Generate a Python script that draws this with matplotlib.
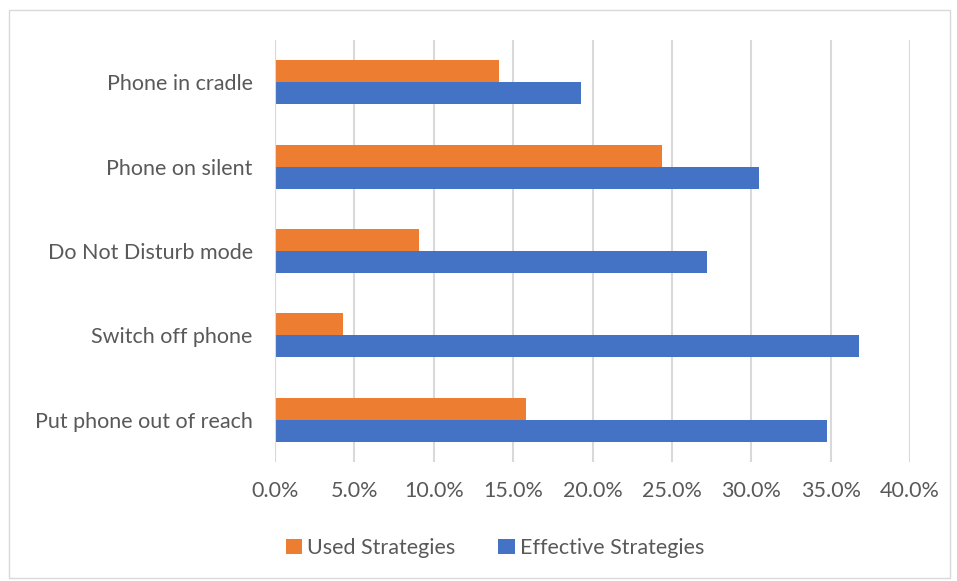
import matplotlib.pyplot as plt
import numpy as np
from matplotlib.ticker import FuncFormatter
from matplotlib.patches import Rectangle

categories = ["Put phone out of reach", "Switch off phone", "Do Not Disturb mode",
              "Phone on silent", "Phone in cradle"]
used = [15.8, 4.3, 9.1, 24.4, 14.1]
effective = [34.8, 36.8, 27.2, 30.5, 19.3]
xticks = [0, 5, 10, 15, 20, 25, 30, 35, 40]

plt.rcParams['font.family'] = ['Lato', 'DejaVu Sans']
txt = '#595959'
fs = 15.5

fig = plt.figure(figsize=(9.57, 5.81), dpi=100)
fig.patches.append(Rectangle((0.009, 0.005), 0.984, 0.978, transform=fig.transFigure,
                             fill=False, edgecolor='#d9d9d9', linewidth=1))
ax = fig.add_axes([275/957, 1-462/581, (910-275)/957, (462-40)/581])

y = np.arange(len(categories))
h = 0.26
ax.barh(y - h/2, effective, height=h, color='#4472c4', label='Effective Strategies', zorder=3)
ax.barh(y + h/2, used, height=h, color='#ed7d31', label='Used Strategies', zorder=3)

ax.set_xlim(0, 40)
ax.set_ylim(-0.5, 4.5)
ax.set_xticks(xticks)
ax.xaxis.set_major_formatter(FuncFormatter(lambda v, p: f"{v:.1f}%"))
ax.set_yticks(y)
ax.set_yticklabels(categories)
ax.grid(axis='x', color='#d9d9d9', linewidth=1.5, zorder=0)
for s in ax.spines.values():
    s.set_visible(False)
ax.axvline(0, color='#d9d9d9', linewidth=1.5, zorder=4)
ax.tick_params(axis='both', length=0, labelsize=fs, colors=txt)
ax.tick_params(axis='x', pad=14)
ax.tick_params(axis='y', pad=16)

handles, labels = ax.get_legend_handles_labels()
leg = fig.legend(handles[::-1], labels[::-1], loc='center', bbox_to_anchor=(495/957, 1-548/581),
                 ncol=2, frameon=False, fontsize=fs, handlelength=0.75, handleheight=0.75,
                 handletextpad=0.25, columnspacing=2.0)
for t in leg.get_texts():
    t.set_color(txt)

fig.savefig('out.png', dpi=100)
